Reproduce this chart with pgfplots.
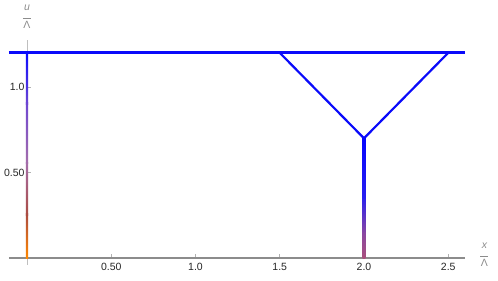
\documentclass[border=0pt]{standalone}
\usepackage{pgfplots}
\pgfplotsset{compat=1.18}
\usepackage{fontspec}
\setmainfont{Liberation Sans}
\definecolor{lA}{RGB}{255,135,0}
\definecolor{lB}{RGB}{170,75,65}
\definecolor{lC}{RGB}{165,110,170}
\definecolor{lD}{RGB}{110,70,210}
\definecolor{lE}{RGB}{10,10,255}
\definecolor{rA}{RGB}{170,80,125}
\definecolor{rB}{RGB}{135,70,165}
\definecolor{rC}{RGB}{40,30,240}
\definecolor{rD}{RGB}{5,5,255}
\definecolor{mblue}{RGB}{10,10,250}
\begin{document}
\begin{tikzpicture}
\begin{axis}[
  scale only axis,
  x=168.5pt, y=171pt,
  xmin=-0.107, xmax=2.6,
  ymin=-0.04, ymax=1.275,
  axis lines=middle,
  axis line style={-},
  x axis line style={draw=black!45, line width=2.2pt},
  y axis line style={draw=none},
  tick align=inside,
  major tick length=4.5pt,
  tick style={black!30, line width=0.7pt},
  xtick={0.5,1.0,1.5,2.0,2.5},
  xticklabels={0.50,1.0,1.5,2.0,2.5},
  ytick={0.5,1.0},
  yticklabels={0.50,1.0},
  ticklabel style={font=\fontsize{10.5}{12}\selectfont, text=black!85},
  /pgf/number format/assume math mode=true,
  xticklabel style={yshift=-1.5pt},
  yticklabel style={xshift=1pt},
  clip=false,
]
% y axis line, drawn beneath the data
\addplot[black!25, line width=0.8pt] coordinates {(0,-0.04) (0,1.275)};
% left vertical line (x = 0), shaded from orange to blue
\addplot[draw=none, shading=axis, bottom color=lA, top color=lB] coordinates {(-0.0068,0) (0.0068,0) (0.0068,0.26) (-0.0068,0.26)};
\addplot[draw=none, shading=axis, bottom color=lB, top color=lC] coordinates {(-0.0068,0.25) (0.0068,0.25) (0.0068,0.56) (-0.0068,0.56)};
\addplot[draw=none, shading=axis, bottom color=lC, top color=lD] coordinates {(-0.0068,0.55) (0.0068,0.55) (0.0068,0.91) (-0.0068,0.91)};
\addplot[draw=none, shading=axis, bottom color=lD, top color=lE] coordinates {(-0.0068,0.9) (0.0068,0.9) (0.0068,1.2) (-0.0068,1.2)};
% right vertical line (x = 2)
\addplot[draw=none, shading=axis, bottom color=rA, top color=rB] coordinates {(1.9917,0) (2.0083,0) (2.0083,0.16) (1.9917,0.16)};
\addplot[draw=none, shading=axis, bottom color=rB, top color=rC] coordinates {(1.9917,0.15) (2.0083,0.15) (2.0083,0.36) (1.9917,0.36)};
\addplot[draw=none, shading=axis, bottom color=rC, top color=rD] coordinates {(1.9917,0.35) (2.0083,0.35) (2.0083,0.705) (1.9917,0.705)};
% blue lines
\addplot[color=mblue, line width=2.8pt] coordinates {(-0.107,1.2) (2.6,1.2)};
\addplot[color=mblue, line width=2.2pt, line join=miter] coordinates {(1.5,1.2) (2.0,0.7) (2.5,1.2)};
\node[text=black!45, font=\fontsize{10.5}{11}\selectfont, align=center, inner sep=0pt] at (axis cs:0,1.41) {\itshape u\\[-3pt]\rule{8pt}{0.7pt}\\[-1pt]Λ};
\node[text=black!45, font=\fontsize{10.5}{11}\selectfont, align=center, inner sep=0pt] at (axis cs:2.715,0.02) {\itshape x\\[-3pt]\rule{8pt}{0.7pt}\\[-1pt]Λ};
\coordinate (ll) at (axis cs:-0.1602,-0.1287);
\coordinate (ur) at (axis cs:2.7953,1.5088);
\end{axis}
\pgfresetboundingbox
\useasboundingbox (ll) rectangle (ur);
\end{tikzpicture}
\end{document}
